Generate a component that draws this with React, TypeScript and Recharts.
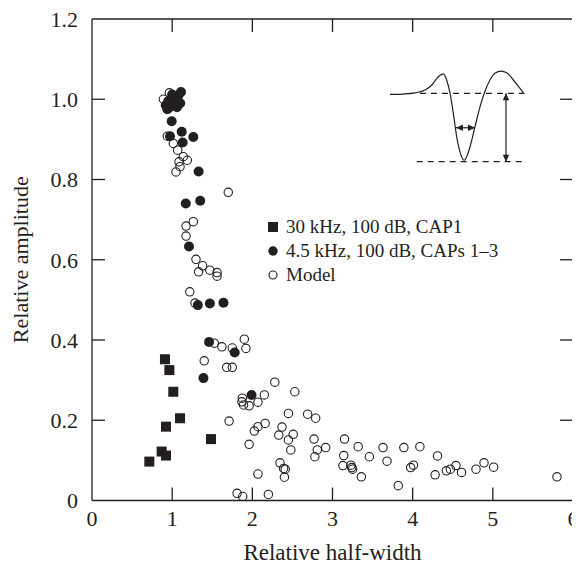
import React from 'react';
import { ComposedChart, Scatter, Line, XAxis, YAxis, ReferenceLine, Legend } from 'recharts';

const INK = '#231f20';
const FONT = '"Liberation Serif", "Times New Roman", Times, serif';

const xTicks = [0, 1, 2, 3, 4, 5, 6];
const yTicks = [0, 0.2, 0.4, 0.6, 0.8, 1.0, 1.2];
const xLabel = 'Relative half-width';
const yLabel = 'Relative amplitude';
const seriesNames = ['30 kHz, 100 dB, CAP1', '4.5 kHz, 100 dB, CAPs 1–3', 'Model'];

// 30 kHz, 100 dB, CAP1 (filled squares)
const cap30 = [
  [0.91, 0.352], [0.965, 0.325], [1.014, 0.271], [1.098, 0.205], [0.923, 0.184],
  [0.869, 0.122], [0.923, 0.112], [0.715, 0.097], [1.484, 0.153],
].map(([x, y]) => ({ x, y }));

// 4.5 kHz, 100 dB, CAPs 1-3 (filled circles)
const cap45 = [
  [0.92, 0.985], [0.95, 0.995], [0.97, 0.98], [0.99, 1.0], [1.02, 0.985], [1.05, 0.995],
  [1.08, 1.01], [1.11, 1.018], [1.0, 1.012], [1.06, 0.98], [1.1, 0.99], [0.94, 0.975],
  [0.994, 0.945], [1.119, 0.919], [0.973, 0.908], [1.131, 0.892], [1.264, 0.906],
  [1.33, 0.82], [1.17, 0.74], [1.35, 0.747], [1.21, 0.633], [1.32, 0.487], [1.47, 0.491],
  [1.64, 0.493], [1.46, 0.395], [1.78, 0.369], [1.39, 0.305], [1.99, 0.263],
].map(([x, y]) => ({ x, y }));

// Model (open circles)
const model = [
  [0.89, 1.0], [0.965, 1.016], [0.94, 0.908], [1.014, 0.89], [1.069, 0.873], [1.139, 0.857],
  [1.189, 0.848], [1.085, 0.844], [1.098, 0.832], [1.048, 0.819], [1.70, 0.768], [1.264, 0.695],
  [1.173, 0.684], [1.173, 0.659], [1.297, 0.601], [1.38, 0.585], [1.33, 0.570], [1.47, 0.574],
  [1.56, 0.568], [1.56, 0.559], [1.22, 0.52], [1.285, 0.492], [1.525, 0.392], [1.62, 0.383],
  [1.75, 0.38], [1.90, 0.402], [1.92, 0.379], [1.40, 0.348], [1.68, 0.332], [1.75, 0.332],
  [2.28, 0.295], [2.53, 0.271], [2.15, 0.263], [1.875, 0.255], [1.87, 0.246], [1.89, 0.238],
  [1.96, 0.236], [2.07, 0.245], [1.71, 0.198], [2.45, 0.217], [2.69, 0.215], [2.79, 0.205],
  [2.16, 0.192], [2.07, 0.184], [2.025, 0.173], [2.37, 0.183], [2.33, 0.163], [2.51, 0.165],
  [2.45, 0.151], [1.96, 0.14], [2.48, 0.126], [2.345, 0.094], [2.39, 0.08], [2.41, 0.078],
  [2.40, 0.058], [2.07, 0.066], [1.81, 0.018], [1.88, 0.01], [2.20, 0.015], [2.77, 0.153],
  [2.81, 0.126], [2.78, 0.109], [2.915, 0.132], [3.15, 0.153], [3.14, 0.112], [3.13, 0.087],
  [3.23, 0.088], [3.24, 0.082], [3.25, 0.078], [3.32, 0.134], [3.36, 0.059], [3.46, 0.109],
  [3.63, 0.132], [3.68, 0.098], [3.82, 0.037], [3.89, 0.132], [3.975, 0.082], [4.01, 0.088],
  [4.09, 0.134], [4.28, 0.064], [4.31, 0.111], [4.42, 0.074], [4.47, 0.078], [4.54, 0.087],
  [4.61, 0.070], [4.79, 0.078], [4.89, 0.094], [5.01, 0.083], [5.80, 0.059],
].map(([x, y]) => ({ x, y }));

// Inset: CAP waveform sketch (in data coordinates)
const wave = [
  [3.717, 1.012], [3.879, 1.013], [4.029, 1.016], [4.154, 1.023], [4.237, 1.035], [4.32, 1.056],
  [4.382, 1.063], [4.424, 1.048], [4.466, 1.015], [4.507, 0.965], [4.549, 0.907], [4.59, 0.869],
  [4.644, 0.848], [4.703, 0.873], [4.777, 0.931], [4.84, 0.981], [4.893, 1.015], [4.964, 1.048],
  [5.027, 1.065], [5.102, 1.07], [5.173, 1.066], [5.255, 1.048], [5.339, 1.027], [5.392, 1.013],
].map(([x, y]) => ({ x, y }));
const baseLevel = { y: 1.0147, x1: 4.091, x2: 5.376 };
const troughLevel = { y: 0.8443, x1: 4.05, x2: 5.36 };
const ampArrow = { x: 5.164, y1: 1.0147, y2: 0.8443 };
const widthArrow = { y: 0.929, x1: 4.54, x2: 4.777 };

const X_MIN = xTicks[0], X_MAX = xTicks[xTicks.length - 1];
const Y_MIN = yTicks[0], Y_MAX = yTicks[yTicks.length - 1];
const innerX = xTicks.slice(1, -1);
const innerY = yTicks.slice(1, -1);

const TICK_LEN = 13;
const TICK_FONT = 22;
const TITLE_FONT = 23;
const LEGEND_FONT = 19;
const AXIS_W = 1.3;
const X_TICK_MARGIN = 10;
const Y_TICK_MARGIN = 14;

const OpenCircle = (p: any) => (
  <circle cx={p.cx} cy={p.cy} r={4.2} fill="none" stroke={INK} strokeWidth={1.1} />
);
const FilledCircle = (p: any) => <circle cx={p.cx} cy={p.cy} r={5} fill={INK} />;
const FilledSquare = (p: any) => <rect x={p.cx - 5} y={p.cy - 5} width={10} height={10} fill={INK} />;

// top / right inward tick marks, anchored at the segment point (x1, y1)
const DownTick = (p: any) => (
  <rect x={p.x1 - AXIS_W / 2} y={p.y1} width={AXIS_W} height={TICK_LEN} fill={INK} />
);
const LeftwardTick = (p: any) => (
  <rect x={p.x1 - TICK_LEN} y={p.y1 - AXIS_W / 2} width={TICK_LEN} height={AXIS_W} fill={INK} />
);

const head = (x: number, y: number, dx: number, dy: number) => {
  const L = 7, W = 3.2;
  const bx = x - dx * L, by = y - dy * L;
  const px = -dy * W, py = dx * W;
  return `${x},${y} ${bx + px},${by + py} ${bx - px},${by - py}`;
};

const DoubleArrow = (p: any) => {
  const { x1, y1, x2, y2 } = p;
  const len = Math.hypot(x2 - x1, y2 - y1) || 1;
  const dx = (x2 - x1) / len, dy = (y2 - y1) / len;
  return (
    <g>
      <line x1={x1} y1={y1} x2={x2} y2={y2} stroke={INK} strokeWidth={1.2} />
      <polygon points={head(x2, y2, dx, dy)} fill={INK} />
      <polygon points={head(x1, y1, -dx, -dy)} fill={INK} />
    </g>
  );
};

// bottom / left axis ticks: label plus an inward tick mark
const BottomTick = (p: any) => {
  const v = p.payload.value;
  const axisY = p.y - X_TICK_MARGIN;
  const inner = v !== X_MIN && v !== X_MAX;
  return (
    <g>
      {inner && <rect x={p.x - AXIS_W / 2} y={axisY - TICK_LEN} width={AXIS_W} height={TICK_LEN} fill={INK} />}
      <text x={p.x} y={p.y} dy="0.71em" textAnchor="middle" fontFamily={FONT} fontSize={TICK_FONT} fill={INK}>
        {v}
      </text>
    </g>
  );
};
const LeftTick = (p: any) => {
  const v = p.payload.value;
  const axisX = p.x + Y_TICK_MARGIN;
  const inner = v !== Y_MIN && v !== Y_MAX;
  return (
    <g>
      {inner && <rect x={axisX} y={p.y - AXIS_W / 2} width={TICK_LEN} height={AXIS_W} fill={INK} />}
      <text x={p.x} y={p.y} dy="0.355em" textAnchor="end" fontFamily={FONT} fontSize={TICK_FONT} fill={INK}>
        {v === 0 ? '0' : v.toFixed(1)}
      </text>
    </g>
  );
};

const markerFor = (i: number) => {
  if (i === 0) return <rect x={1} y={1} width={10} height={10} fill={INK} />;
  if (i === 1) return <circle cx={6} cy={6} r={4.7} fill={INK} />;
  return <circle cx={6} cy={6} r={4} fill="none" stroke={INK} strokeWidth={1.1} />;
};

const renderLegend = () => (
  <div style={{ fontFamily: FONT, fontSize: LEGEND_FONT, color: INK }}>
    {seriesNames.map((name, i) => (
      <div key={name} style={{ display: 'flex', alignItems: 'center', height: 24, whiteSpace: 'nowrap' }}>
        <svg width={12} height={12} style={{ marginRight: 7, flex: 'none' }}>{markerFor(i)}</svg>
        <span>{name}</span>
      </div>
    ))}
  </div>
);

const YLabel = (props: any) => {
  const vb = props.viewBox || { x: 0, y: 11, width: 84, height: 481.5 };
  const cx = 20;
  const cy = vb.y + vb.height / 2;
  return (
    <text x={cx} y={cy} transform={`rotate(-90 ${cx} ${cy})`} textAnchor="middle"
      fontFamily={FONT} fontSize={22} fill={INK}>{yLabel}</text>
  );
};

const pt = (x: number, y: number) => ({ x, y });

export default function App() {
  return (
    <ComposedChart width={572} height={557} margin={{ top: 11, right: 7, left: 0, bottom: 0 }}>
      <XAxis xAxisId="b" type="number" dataKey="x" domain={[X_MIN, X_MAX]} ticks={xTicks}
        orientation="bottom" height={64.5} tickSize={0} tickMargin={X_TICK_MARGIN}
        stroke={INK} strokeWidth={AXIS_W} tick={BottomTick} tickLine={false} allowDataOverflow
        label={{ value: xLabel, position: 'insideBottom', offset: 5, fontFamily: FONT, fontSize: TITLE_FONT, fill: INK }} />
      <YAxis yAxisId="l" type="number" dataKey="y" domain={[Y_MIN, Y_MAX]} ticks={yTicks}
        width={84} tickSize={0} tickMargin={Y_TICK_MARGIN}
        stroke={INK} strokeWidth={AXIS_W} tick={LeftTick} tickLine={false} allowDataOverflow
        label={{ content: YLabel }} />

      <Line xAxisId="b" yAxisId="l" data={wave} dataKey="y" type="monotone" dot={false}
        stroke={INK} strokeWidth={1.2} isAnimationActive={false} legendType="none" />
      <ReferenceLine xAxisId="b" yAxisId="l" segment={[pt(baseLevel.x1, baseLevel.y), pt(baseLevel.x2, baseLevel.y)]}
        stroke={INK} strokeWidth={1.2} strokeDasharray="6 5" />
      <ReferenceLine xAxisId="b" yAxisId="l" segment={[pt(troughLevel.x1, troughLevel.y), pt(troughLevel.x2, troughLevel.y)]}
        stroke={INK} strokeWidth={1.2} strokeDasharray="6 5" />
      <ReferenceLine xAxisId="b" yAxisId="l" segment={[pt(ampArrow.x, ampArrow.y1), pt(ampArrow.x, ampArrow.y2)]}
        shape={DoubleArrow} />
      <ReferenceLine xAxisId="b" yAxisId="l" segment={[pt(widthArrow.x1, widthArrow.y), pt(widthArrow.x2, widthArrow.y)]}
        shape={DoubleArrow} />

      <Scatter xAxisId="b" yAxisId="l" name={seriesNames[2]} data={model} shape={OpenCircle} isAnimationActive={false} />
      <Scatter xAxisId="b" yAxisId="l" name={seriesNames[1]} data={cap45} shape={FilledCircle} isAnimationActive={false} />
      <Scatter xAxisId="b" yAxisId="l" name={seriesNames[0]} data={cap30} shape={FilledSquare} isAnimationActive={false} />

      {/* frame: top and right borders */}
      <ReferenceLine xAxisId="b" yAxisId="l" y={Y_MAX} stroke={INK} strokeWidth={AXIS_W} ifOverflow="visible" />
      <ReferenceLine xAxisId="b" yAxisId="l" x={X_MAX} stroke={INK} strokeWidth={AXIS_W} ifOverflow="visible" />
      {/* inward ticks on top and right sides */}
      {innerX.map((t) => (
        <ReferenceLine key={`t${t}`} xAxisId="b" yAxisId="l" segment={[pt(t, Y_MAX), pt(t, Y_MAX)]}
          shape={DownTick} ifOverflow="visible" />
      ))}
      {innerY.map((t) => (
        <ReferenceLine key={`r${t}`} xAxisId="b" yAxisId="l" segment={[pt(X_MAX, t), pt(X_MAX, t)]}
          shape={LeftwardTick} ifOverflow="visible" />
      ))}

      <Legend layout="vertical" align="center" verticalAlign="middle" content={renderLegend}
        wrapperStyle={{ left: 259, top: 207, width: 'auto', height: 'auto' }} />
    </ComposedChart>
  );
}
